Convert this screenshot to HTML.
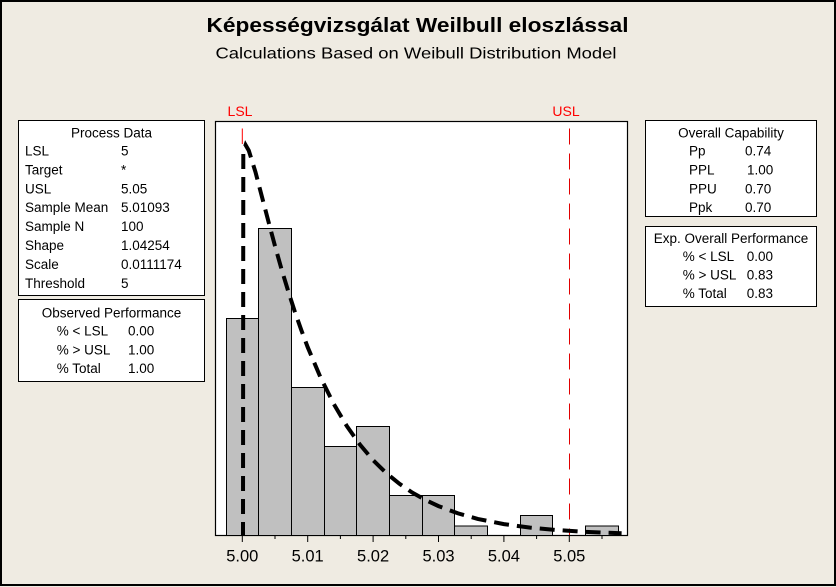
<!DOCTYPE html>
<html>
<head>
<meta charset="utf-8">
<style>
html,body{margin:0;padding:0;background:#EFEBE2;}
svg{display:block;}
text{font-family:"Liberation Sans",Arial,sans-serif;}
</style>
</head>
<body>
<svg width="836" height="587" viewBox="0 0 836 587" xmlns="http://www.w3.org/2000/svg">
  <rect x="0" y="0" width="836" height="587" fill="#EFEBE2"/>
  <rect x="1" y="1" width="834" height="584" fill="none" stroke="#000" stroke-width="2"/>

  <!-- Titles -->
  <text x="206.5" y="32" font-size="20" font-weight="bold" textLength="422" lengthAdjust="spacingAndGlyphs" fill="#000">Képességvizsgálat Weilbull eloszlással</text>
  <text x="215.5" y="58.5" font-size="16" textLength="401" lengthAdjust="spacingAndGlyphs" fill="#000">Calculations Based on Weibull Distribution Model</text>

  <!-- Spec labels -->
  <text x="240" y="116" font-size="14" fill="#FF0000" text-anchor="middle">LSL</text>
  <text x="566" y="116" font-size="14" fill="#FF0000" text-anchor="middle">USL</text>

  <!-- Plot frame -->
  <rect x="215.5" y="121.5" width="412" height="414" fill="#FFFFFF" stroke="#000" stroke-width="1.2"/>

  <!-- Bars -->
  <g fill="#C0C0C0" stroke="#000" stroke-width="1">
    <rect x="226.5" y="318.5" width="32" height="217"/>
    <rect x="258.5" y="228.5" width="33" height="307"/>
    <rect x="291.5" y="387.5" width="33" height="148"/>
    <rect x="324.5" y="446.5" width="32" height="89"/>
    <rect x="356.5" y="426.5" width="33" height="109"/>
    <rect x="389.5" y="495.5" width="33" height="40"/>
    <rect x="422.5" y="495.5" width="32" height="40"/>
    <rect x="454.5" y="526" width="33" height="9.5"/>
    <rect x="520.5" y="515.5" width="32" height="20"/>
    <rect x="585.5" y="526" width="33" height="9.5"/>
  </g>

  <!-- LSL / USL lines -->
  <line x1="242.3" y1="128.5" x2="242.3" y2="144" stroke="#FF0000" stroke-width="1"/>
  <line x1="569.5" y1="128.5" x2="569.5" y2="535" stroke="#E00000" stroke-width="1" stroke-dasharray="16 9"/>

  <!-- Weibull curve -->
  <path d="M243,535 L243.3,152 L245.6,145 L248.8,150.6 L255.4,171.8 L261.9,196.6 L268.5,221.7 L275,246 L281.5,269.1 L288.1,290.8 L294.6,311 L301.2,329.8 L307.7,347.2 L320.8,378.1 L333.9,404.2 L346.9,426.2 L360,444.7 L373.1,460.2 L386.2,473 L399.3,483.7 L412.3,492.6 L425.4,500 L438.5,506.1 L458.1,513.4 L477.7,518.9 L503.9,524.1 L530.1,527.6 L556.2,530 L582.4,531.7 L608.5,532.8 L621.6,533.2"
        fill="none" stroke="#000" stroke-width="4" stroke-dasharray="15 8" stroke-dashoffset="2"/>

  <!-- Ticks -->
  <g stroke="#000" stroke-width="1">
    <line x1="242.3" y1="535" x2="242.3" y2="542"/>
    <line x1="307.7" y1="535" x2="307.7" y2="542"/>
    <line x1="373.1" y1="535" x2="373.1" y2="542"/>
    <line x1="438.5" y1="535" x2="438.5" y2="542"/>
    <line x1="503.9" y1="535" x2="503.9" y2="542"/>
    <line x1="569.3" y1="535" x2="569.3" y2="542"/>
    <line x1="275" y1="535" x2="275" y2="539"/>
    <line x1="340.4" y1="535" x2="340.4" y2="539"/>
    <line x1="405.8" y1="535" x2="405.8" y2="539"/>
    <line x1="471.2" y1="535" x2="471.2" y2="539"/>
    <line x1="536.6" y1="535" x2="536.6" y2="539"/>
    <line x1="602" y1="535" x2="602" y2="539"/>
  </g>
  <g font-size="16.5" fill="#000" text-anchor="middle">
    <text x="242.3" y="561.5">5.00</text>
    <text x="307.7" y="561.5">5.01</text>
    <text x="373.1" y="561.5">5.02</text>
    <text x="438.5" y="561.5">5.03</text>
    <text x="503.9" y="561.5">5.04</text>
    <text x="569.3" y="561.5">5.05</text>
  </g>

  <!-- Process Data box -->
  <rect x="18.5" y="120.5" width="186" height="175" fill="#FFFFFF" stroke="#000" stroke-width="1"/>
  <g font-size="13.5" fill="#000">
    <text x="111.5" y="137.5" text-anchor="middle">Process Data</text>
    <text x="25" y="155.5">LSL</text><text x="121" y="155.5">5</text>
    <text x="25" y="174.4">Target</text><text x="121" y="174.4">*</text>
    <text x="25" y="193.3">USL</text><text x="121" y="193.3">5.05</text>
    <text x="25" y="212.2">Sample Mean</text><text x="121" y="212.2">5.01093</text>
    <text x="25" y="231.1">Sample N</text><text x="121" y="231.1">100</text>
    <text x="25" y="250">Shape</text><text x="121" y="250">1.04254</text>
    <text x="25" y="268.9">Scale</text><text x="121" y="268.9">0.0111174</text>
    <text x="25" y="287.8">Threshold</text><text x="121" y="287.8">5</text>
  </g>

  <!-- Observed Performance box -->
  <rect x="18.5" y="299.5" width="186" height="82" fill="#FFFFFF" stroke="#000" stroke-width="1"/>
  <g font-size="13.5" fill="#000">
    <text x="111.5" y="317.5" text-anchor="middle">Observed Performance</text>
    <text x="56.7" y="335.5">% &lt; LSL</text><text x="128" y="335.5">0.00</text>
    <text x="56.7" y="354.5">% &gt; USL</text><text x="128" y="354.5">1.00</text>
    <text x="56.7" y="373">% Total</text><text x="128" y="373">1.00</text>
  </g>

  <!-- Overall Capability box -->
  <rect x="645.5" y="120.5" width="171" height="96" fill="#FFFFFF" stroke="#000" stroke-width="1"/>
  <g font-size="13.5" fill="#000">
    <text x="731" y="137.5" text-anchor="middle">Overall Capability</text>
    <text x="689" y="155.5">Pp</text><text x="745" y="155.5">0.74</text>
    <text x="689" y="174.5">PPL</text><text x="747" y="174.5">1.00</text>
    <text x="689" y="193.5">PPU</text><text x="745" y="193.5">0.70</text>
    <text x="689" y="212">Ppk</text><text x="745" y="212">0.70</text>
  </g>

  <!-- Exp. Overall Performance box -->
  <rect x="645.5" y="226.5" width="171" height="80" fill="#FFFFFF" stroke="#000" stroke-width="1"/>
  <g font-size="13.5" fill="#000">
    <text x="731" y="243" text-anchor="middle">Exp. Overall Performance</text>
    <text x="682.7" y="261">% &lt; LSL</text><text x="746.7" y="261">0.00</text>
    <text x="682.7" y="279.5">% &gt; USL</text><text x="746.7" y="279.5">0.83</text>
    <text x="682.7" y="298">% Total</text><text x="746.7" y="298">0.83</text>
  </g>
</svg>
</body>
</html>
